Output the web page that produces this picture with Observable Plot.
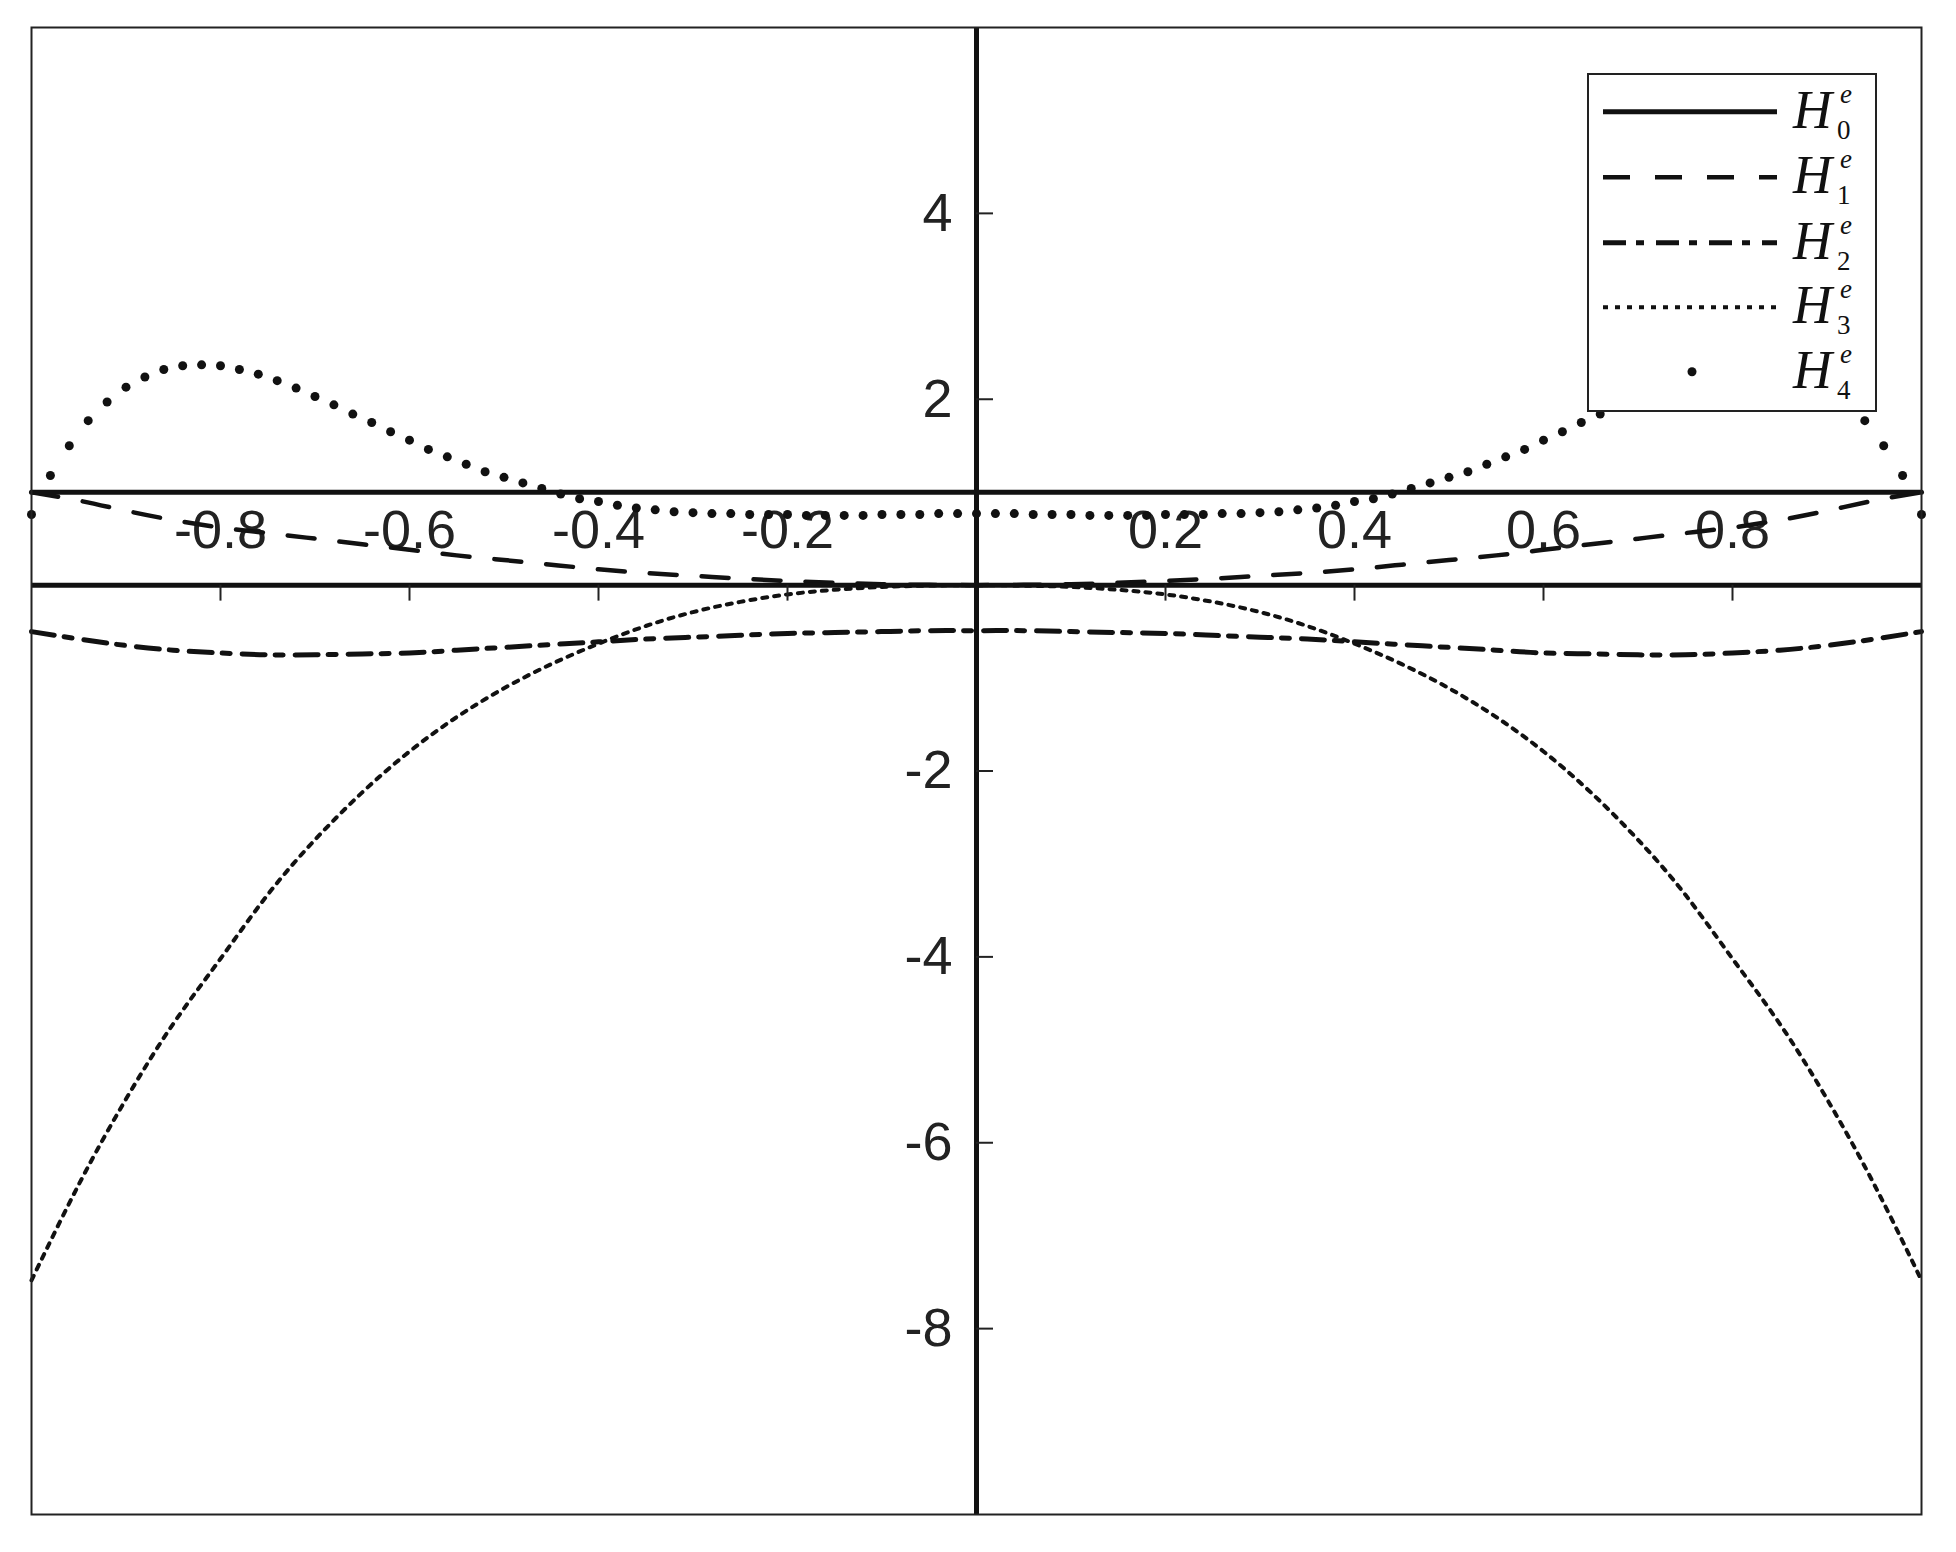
<!DOCTYPE html>
<html><head><meta charset="utf-8">
<script src="https://cdn.jsdelivr.net/npm/d3@7"></script>
<script src="https://cdn.jsdelivr.net/npm/@observablehq/plot@0.6"></script>
<style>
html,body{margin:0;padding:0;background:#fff;}
#wrap{position:relative;width:1956px;height:1552px;overflow:hidden;}
#legend{position:absolute;left:1587px;top:73px;}
</style></head><body><div id="wrap"></div>
<script>
// ---- data ----
const xGrid = [-1,-0.95,-0.9,-0.85,-0.8,-0.75,-0.7,-0.65,-0.6,-0.55,-0.5,-0.45,-0.4,-0.35,-0.3,-0.25,-0.2,-0.15,-0.1,-0.05,0,
  0.05,0.1,0.15,0.2,0.25,0.3,0.35,0.4,0.45,0.5,0.55,0.6,0.65,0.7,0.75,0.8,0.85,0.9,0.95,1];
const h0X = [-1, 1];
const h0 = [1, 1];
const h1 = [1.0,0.91,0.80,0.70,0.62,0.56,0.50,0.44,0.38,0.32,0.27,0.22,0.17,0.13,0.10,0.07,0.045,0.025,0.01,0.003,0,
  0.003,0.01,0.025,0.045,0.07,0.10,0.13,0.17,0.22,0.27,0.32,0.38,0.44,0.50,0.56,0.62,0.70,0.80,0.91,1.0];
const h2 = [-0.50,-0.58,-0.65,-0.70,-0.73,-0.75,-0.75,-0.74,-0.73,-0.70,-0.67,-0.64,-0.61,-0.58,-0.56,-0.54,-0.52,-0.51,-0.50,-0.49,-0.49,
  -0.49,-0.50,-0.51,-0.52,-0.54,-0.56,-0.58,-0.61,-0.64,-0.67,-0.70,-0.73,-0.74,-0.75,-0.75,-0.73,-0.70,-0.65,-0.58,-0.50];
const h3 = [-7.48,-6.45,-5.53,-4.72,-4.02,-3.33,-2.74,-2.23,-1.79,-1.42,-1.11,-0.85,-0.63,-0.44,-0.29,-0.18,-0.10,-0.05,-0.02,-0.005,0,
  -0.005,-0.02,-0.05,-0.10,-0.18,-0.29,-0.44,-0.63,-0.85,-1.11,-1.42,-1.79,-2.23,-2.74,-3.33,-4.02,-4.72,-5.53,-6.45,-7.48];
const h4X = [-1,-0.98,-0.96,-0.94,-0.92,-0.9,-0.88,-0.86,-0.84,-0.82,-0.8,-0.78,-0.76,-0.74,-0.72,-0.7,-0.68,-0.66,-0.64,-0.62,
  -0.6,-0.58,-0.56,-0.54,-0.52,-0.5,-0.48,-0.46,-0.44,-0.42,-0.4,-0.38,-0.36,-0.34,-0.32,-0.3,-0.28,-0.26,-0.24,-0.22,
  -0.2,-0.18,-0.16,-0.14,-0.12,-0.1,-0.08,-0.06,-0.04,-0.02,0,
  0.02,0.04,0.06,0.08,0.1,0.12,0.14,0.16,0.18,0.2,0.22,0.24,0.26,0.28,0.3,0.32,0.34,0.36,0.38,0.4,
  0.42,0.44,0.46,0.48,0.5,0.52,0.54,0.56,0.58,0.6,0.62,0.64,0.66,0.68,0.7,0.72,0.74,0.76,0.78,0.8,
  0.82,0.84,0.86,0.88,0.9,0.92,0.94,0.96,0.98,1];
const h4 = [0.76,1.18,1.50,1.77,1.97,2.13,2.24,2.32,2.36,2.37,2.36,2.32,2.27,2.20,2.12,2.03,1.94,1.84,1.75,1.65,
  1.56,1.46,1.38,1.30,1.22,1.16,1.10,1.04,0.98,0.93,0.90,0.86,0.83,0.81,0.79,0.78,0.77,0.77,0.76,0.76,
  0.76,0.75,0.75,0.75,0.75,0.76,0.76,0.76,0.77,0.77,0.77,
  0.77,0.77,0.76,0.76,0.76,0.75,0.75,0.75,0.75,0.76,0.76,0.76,0.77,0.77,0.78,0.79,0.81,0.83,0.86,0.90,
  0.93,0.98,1.04,1.10,1.16,1.22,1.30,1.38,1.46,1.56,1.65,1.75,1.84,1.94,2.03,2.12,2.20,2.27,2.32,2.36,
  2.37,2.36,2.32,2.24,2.13,1.97,1.77,1.50,1.18,0.76];
const xTicks = [-0.8,-0.6,-0.4,-0.2,0.2,0.4,0.6,0.8];
const xTickLabels = ["-0.8","-0.6","-0.4","-0.2","0.2","0.4","0.6","0.8"];
const yTicks = [4,2,-2,-4,-6,-8];
const yTickLabels = ["4","2","-2","-4","-6","-8"];
const seriesNames = ["H0","H1","H2","H3","H4"];

// ---- build tables ----
const t0 = h0X.map((x,i)=>({x, y:h0[i]}));
const t1 = xGrid.map((x,i)=>({x, y:h1[i]}));
const t2 = xGrid.map((x,i)=>({x, y:h2[i]}));
const t3 = xGrid.map((x,i)=>({x, y:h3[i]}));
const t4 = h4X.map((x,i)=>({x, y:h4[i]}));

const ink = "#111";
const sans = "'Liberation Sans', Arial, sans-serif";
const styles = {
  H1: {strokeWidth: 4.5, strokeDasharray: "27,25"},
  H2: {strokeWidth: 5, strokeDasharray: "23,10,8,12"},
  H3: {strokeWidth: 4, strokeDasharray: "5,7"}
};

const chart = Plot.plot({
  width: 1956, height: 1552,
  marginLeft: 31, marginRight: 35, marginTop: 27, marginBottom: 38,
  x: {domain: [-1, 1], axis: null},
  y: {domain: [-10, 6], axis: null},
  style: {background: "white", fontFamily: sans},
  marks: [
    Plot.text(xTicks, {x: d => d, y: 0, text: (d, i) => xTickLabels[i], dy: -54, fontSize: 54, fill: "#222", fontFamily: sans}),
    Plot.text(yTicks, {x: 0, y: d => d, text: (d, i) => yTickLabels[i], textAnchor: "end", dx: -24, fontSize: 54, fill: "#222", fontFamily: sans}),
    Plot.line(t3, {x: "x", y: "y", stroke: ink, curve: "natural", ...styles.H3}),
    Plot.line(t2, {x: "x", y: "y", stroke: ink, curve: "natural", ...styles.H2}),
    Plot.line(t1, {x: "x", y: "y", stroke: ink, curve: "natural", ...styles.H1}),
    Plot.line(t0, {x: "x", y: "y", stroke: ink, strokeWidth: 5}),
    Plot.ruleY([0], {stroke: ink, strokeWidth: 5}),
    Plot.ruleX([0], {stroke: ink, strokeWidth: 5}),
    Plot.ruleX(xTicks, {x: d => d, y1: 0, y2: 0, insetBottom: -16, stroke: "#222", strokeWidth: 2}),
    Plot.ruleY(yTicks, {y: d => d, x1: 0, x2: 0, insetRight: -17, stroke: "#222", strokeWidth: 2}),
    Plot.dot(t4, {x: "x", y: "y", r: 4.5, fill: ink, stroke: "none"}),
    Plot.frame({stroke: "#222", strokeWidth: 2})
  ]
});
const wrap = document.getElementById("wrap");
wrap.appendChild(chart);

// ---- legend (overlay, white box) ----
const lg = d3.select(wrap).append("svg").attr("id", "legend")
  .attr("width", 292).attr("height", 341);
lg.append("rect").attr("x", 1).attr("y", 1).attr("width", 288).attr("height", 337)
  .attr("fill", "white").attr("stroke", "#222").attr("stroke-width", 2);
const rows = [38.7, 104.3, 169.7, 234.3, 298.7];
const sx1 = 16, sx2 = 190;
const serif = "'Liberation Serif', 'DejaVu Serif', serif";
seriesNames.forEach((name, i) => {
  const yy = rows[i];
  if (name === "H4") {
    lg.append("circle").attr("cx", 105).attr("cy", yy).attr("r", 4.5).attr("fill", ink);
  } else {
    const ln = lg.append("line").attr("x1", sx1).attr("x2", sx2).attr("y1", yy).attr("y2", yy)
      .attr("stroke", ink).attr("stroke-width", name === "H0" ? 5 : styles[name].strokeWidth);
    if (styles[name]) ln.attr("stroke-dasharray", styles[name].strokeDasharray);
  }
  lg.append("text").attr("x", 206).attr("y", yy + 16).attr("font-family", serif)
    .attr("font-style", "italic").attr("font-size", 54).attr("fill", ink).text(name[0]);
  lg.append("text").attr("x", 253).attr("y", yy - 9).attr("font-family", serif)
    .attr("font-style", "italic").attr("font-size", 27).attr("fill", ink).text("e");
  lg.append("text").attr("x", 250).attr("y", yy + 27).attr("font-family", serif)
    .attr("font-size", 27).attr("fill", ink).text(name.slice(1));
});
</script></body></html>
